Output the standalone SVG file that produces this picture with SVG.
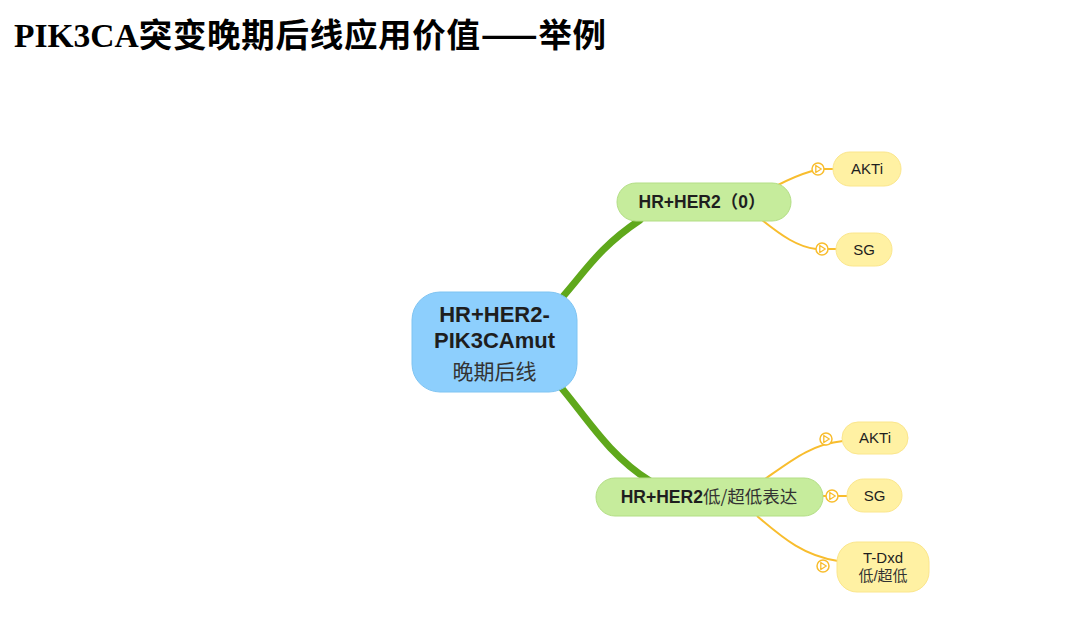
<svg xmlns="http://www.w3.org/2000/svg" width="1080" height="628" viewBox="0 0 1080 628">
<defs>
<style>
.title-lat{font-family:"Liberation Serif",serif;font-weight:bold;font-size:33.5px;fill:#000}
.title-cjk{font-family:"Noto Sans CJK SC",sans-serif;font-weight:bold;font-size:33.5px;fill:#000;letter-spacing:0.7px}
.main{font-family:"Liberation Sans","Noto Sans CJK SC",sans-serif;font-weight:bold;font-size:22px;fill:#1e1e1e;text-anchor:middle}
.cjk{font-family:"Noto Sans CJK SC",sans-serif;font-weight:normal}
.l1{font-family:"Liberation Sans","Noto Sans CJK SC",sans-serif;font-weight:bold;font-size:17.5px;fill:#1e1e1e;text-anchor:middle}
.l2{font-family:"Liberation Sans","Noto Sans CJK SC",sans-serif;font-size:15px;fill:#1e1e1e;text-anchor:middle}
.green{fill:#c6ec9c;stroke:#b3de85;stroke-width:1}
.yellow{fill:#fff1a3;stroke:#fbe68c;stroke-width:1}
.trunk{fill:none;stroke:#5fa81b;stroke-width:7;stroke-linecap:round}
.branch{fill:none;stroke:#f8bd2e;stroke-width:2}
.mk{fill:#fff;stroke:#f8bd2e;stroke-width:1.5}
</style>
<g id="mark">
<circle cx="0" cy="0" r="6" class="mk"/>
<path d="M-2.2,-3.5 L3.3,0 L-2.2,3.5 Z" fill="none" stroke="#f8bd2e" stroke-width="1.3" stroke-linejoin="round"/>
</g>
</defs>
<rect width="1080" height="628" fill="#fff"/>
<text x="14" y="47"><tspan class="title-lat">PIK3CA</tspan><tspan class="title-cjk">突变晚期后线应用价值——举例</tspan></text>
<g id="connectors">
<path class="trunk" d="M559,301 C585,272 598,248 640,220"/>
<path class="trunk" d="M559,385 C585,415 608,455 650,481"/>
<path class="branch" d="M776,186 Q795,176 812,171"/>
<path class="branch" d="M824,169 L834,169"/>
<path class="branch" d="M762,220 C782,236 798,247 816,249"/>
<path class="branch" d="M828,249 L837,249"/>
<path class="branch" d="M765,479 C792,460 812,444 843,441"/>
<path class="branch" d="M823,496 L826,496"/>
<path class="branch" d="M838,496 L848,496"/>
<path class="branch" d="M757,516 C785,540 805,556 838,561"/>
</g>
<g id="n-root">
<rect x="412" y="292" width="165" height="100" rx="28" fill="#8dcffd" stroke="#7fc4f2"/>
<text class="main" x="494.5" y="322">HR+HER2-</text>
<text class="main" x="494.5" y="348">PIK3CAmut</text>
<text class="main cjk" x="494.5" y="379" style="font-weight:normal;fill:#333;font-size:21px">晚期后线</text>
</g>
<g id="n-her0">
<rect x="617" y="183" width="174" height="38" rx="19" class="green"/>
<text class="l1" x="702" y="208">HR+HER2<tspan class="cjk" style="font-weight:bold">（</tspan>0<tspan class="cjk" style="font-weight:bold">）</tspan></text>
</g>
<g id="n-herlow">
<rect x="596" y="478" width="227" height="38" rx="19" class="green"/>
<text class="l1" x="709" y="503">HR+HER2<tspan class="cjk" style="font-weight:normal;fill:#333">低/超低表达</tspan></text>
</g>
<g id="n-akti1">
<use href="#mark" x="818" y="169"/>
<rect x="833" y="152" width="68" height="34" rx="17" class="yellow"/>
<text class="l2" x="867" y="174">AKTi</text>
</g>
<g id="n-sg1">
<use href="#mark" x="822" y="249"/>
<rect x="836" y="233" width="56" height="33" rx="16.5" class="yellow"/>
<text class="l2" x="864" y="255">SG</text>
</g>
<g id="n-akti2">
<use href="#mark" x="826" y="439"/>
<rect x="842" y="422" width="66" height="32" rx="16" class="yellow"/>
<text class="l2" x="875" y="443">AKTi</text>
</g>
<g id="n-sg2">
<use href="#mark" x="832" y="496"/>
<rect x="847" y="479" width="55" height="33" rx="16.5" class="yellow"/>
<text class="l2" x="874.5" y="501">SG</text>
</g>
<g id="n-tdxd">
<use href="#mark" x="823" y="566"/>
<rect x="837" y="542" width="92" height="50" rx="20" class="yellow"/>
<text class="l2" x="883" y="563">T-Dxd</text>
<text class="l2 cjk" x="883" y="581" style="fill:#333">低/超低</text>
</g>
</svg>
